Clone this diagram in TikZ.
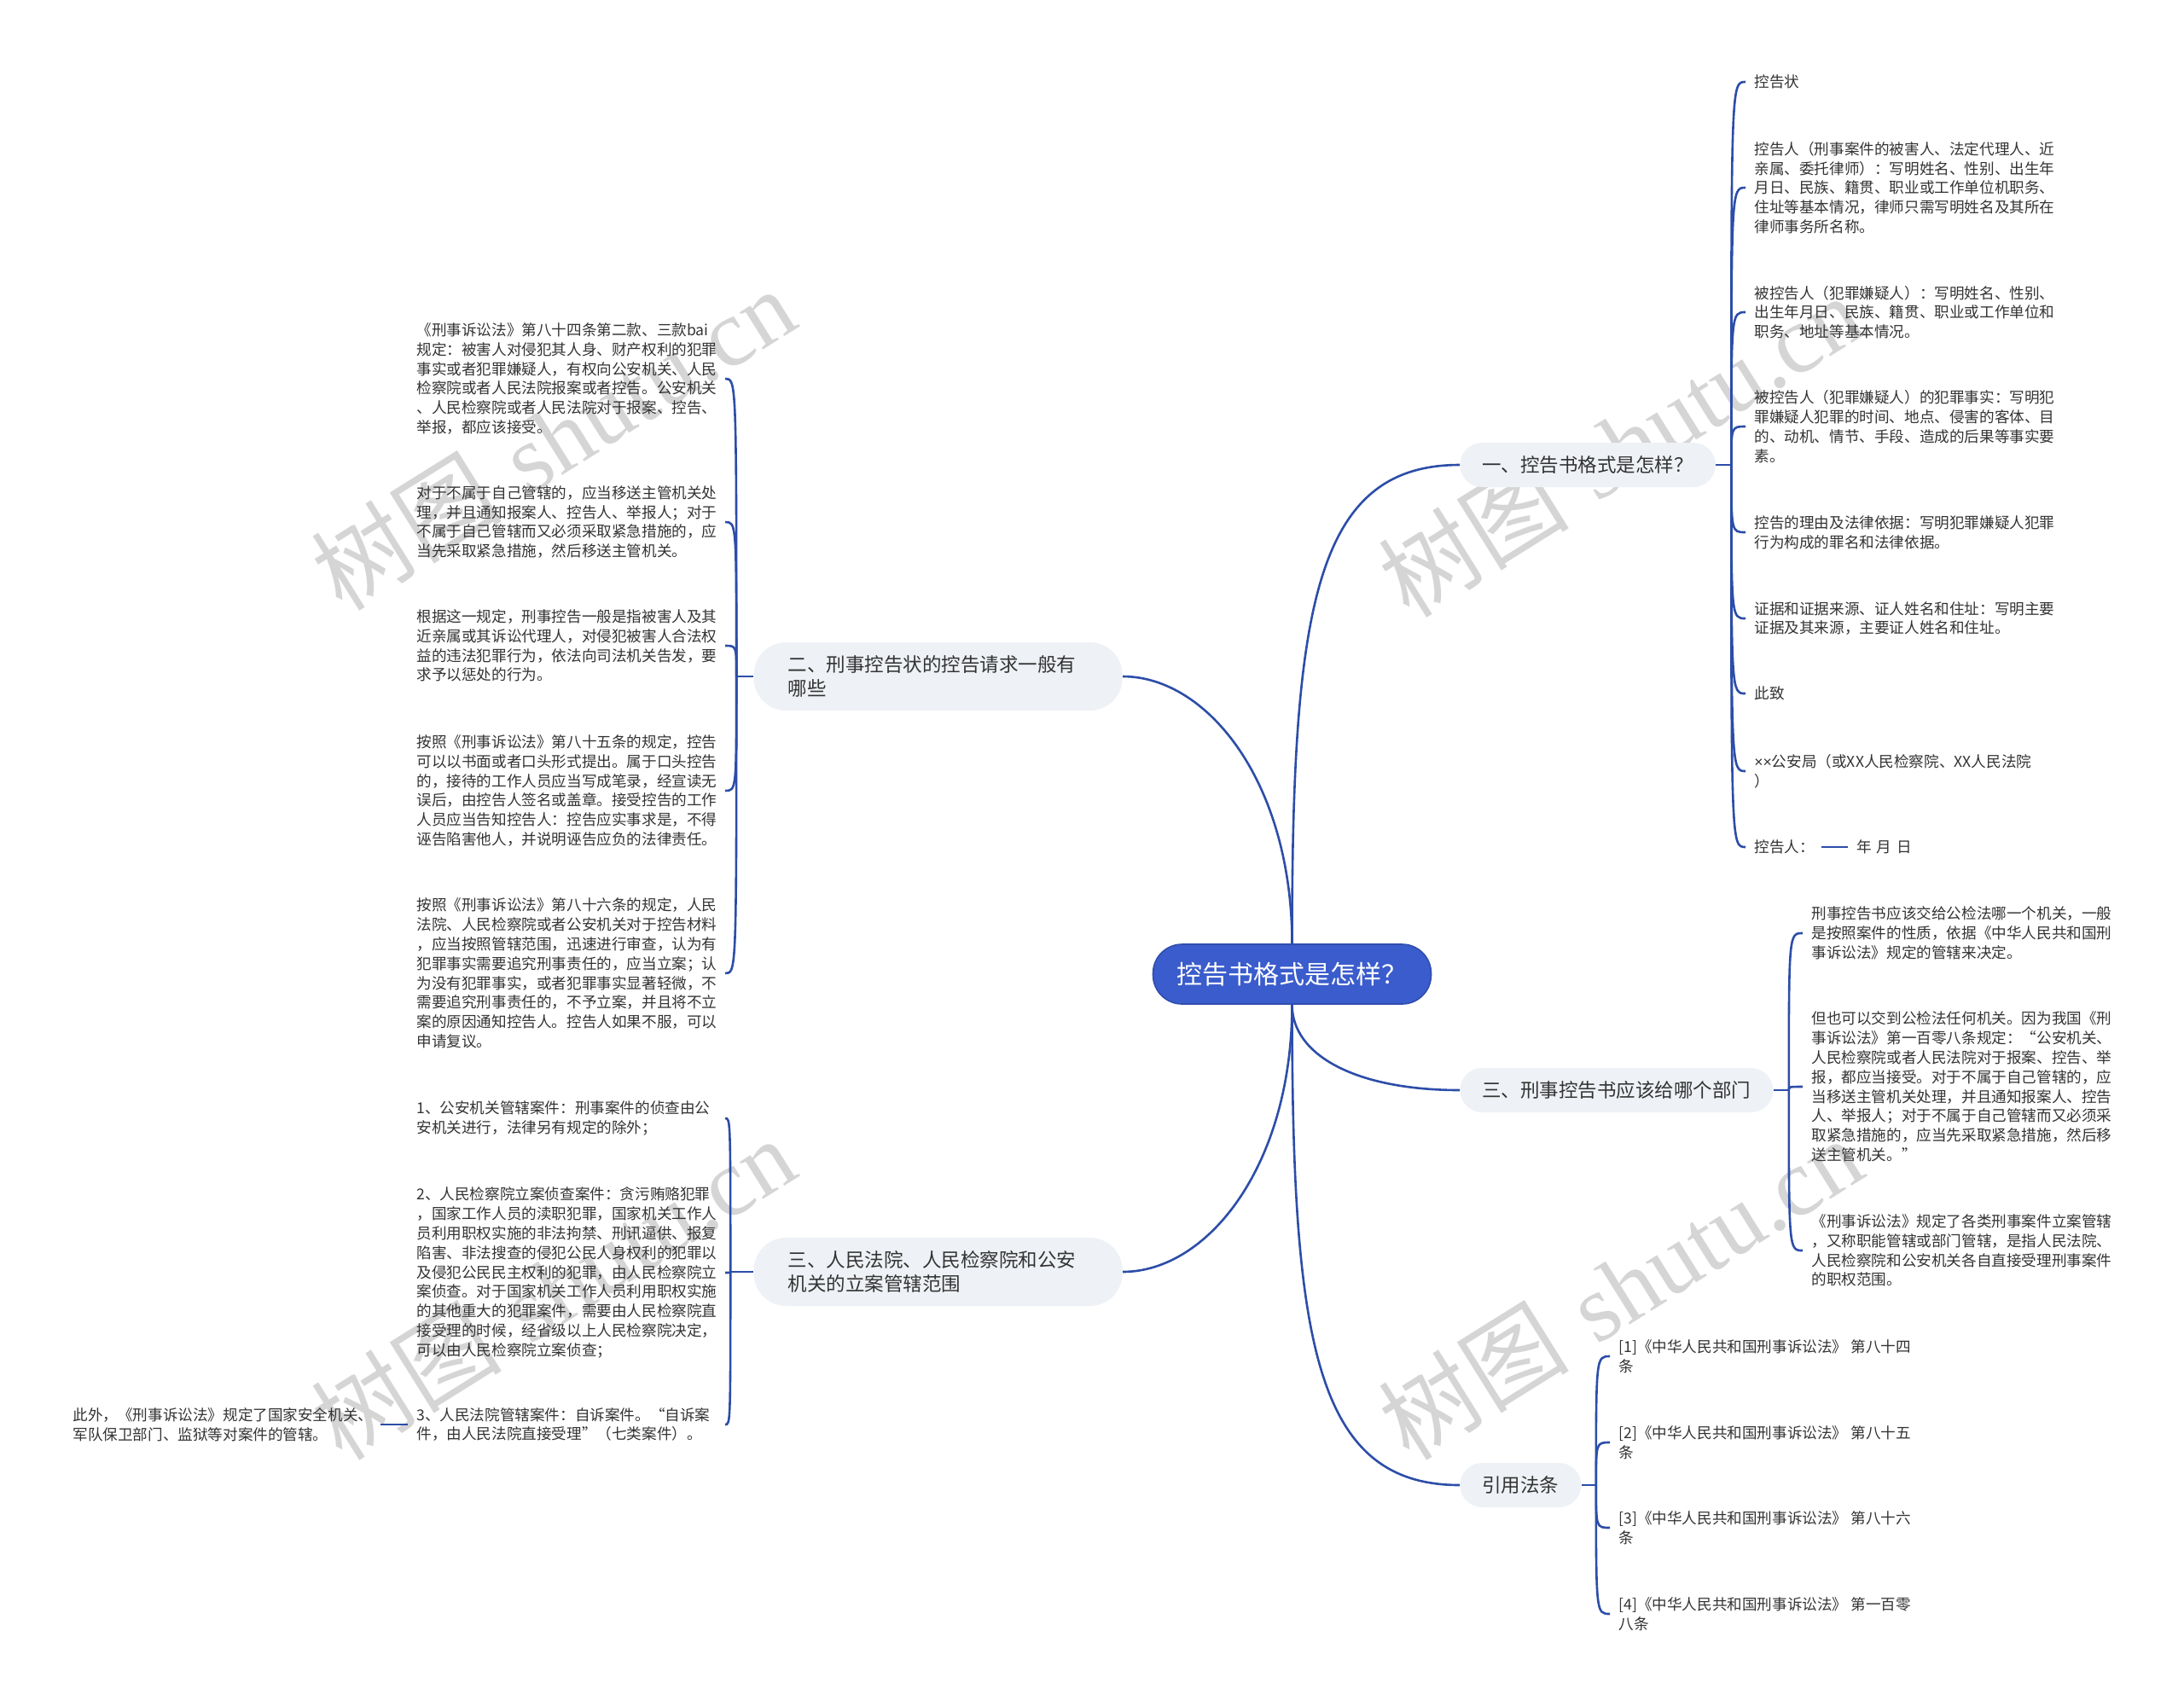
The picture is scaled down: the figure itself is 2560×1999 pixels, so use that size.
\documentclass[tikz,border=0pt]{standalone}
\usepackage{fontspec}
\newfontfamily\cjk{Noto Sans CJK SC}
\newfontfamily\wmserif{Liberation Serif}
\newfontfamily\latsans{Liberation Sans}
\usetikzlibrary{calc}
\definecolor{linec}{RGB}{44,77,168}
\definecolor{rootc}{RGB}{58,92,204}
\definecolor{pillc}{RGB}{238,241,245}
\definecolor{txtc}{RGB}{51,51,51}
\definecolor{wmc}{RGB}{200,200,200}
\begin{document}
\begin{tikzpicture}[x=0.5pt,y=-0.5pt,
  conn/.style={draw=linec, line width=1.3pt},
  leaf/.style={font=\cjk\fontsize{8.8pt}{11.4pt}\selectfont, text=txtc, align=left, inner sep=0pt, anchor=west},
  rootbox/.style={fill=rootc, draw=rootc!85!black, line width=0.8pt, rounded corners=17pt, minimum height=35pt, inner xsep=14pt, inner ysep=0pt, text=white, font=\cjk\fontsize{15pt}{18pt}\selectfont},
  pill/.style={fill=pillc, rounded corners=13pt, minimum height=26pt, inner xsep=13pt, inner ysep=0pt, text=txtc, font=\cjk\fontsize{11.25pt}{14pt}\selectfont, anchor=west},
  pilltwo/.style={fill=pillc, rounded corners=19pt, minimum height=40pt, text width=176pt, align=left, inner xsep=20pt, inner ysep=0pt, text=txtc, font=\cjk\fontsize{11.25pt}{14pt}\selectfont, anchor=east},
  wm/.style={text=wmc, opacity=0.75, rotate=32, font=\fontsize{56pt}{60pt}\selectfont}
]
\fill[white] (0,0) rectangle (2560,1999);
\useasboundingbox (0,0) rectangle (2560,1999);

% watermarks
\node[wm] (w1) at (648,514) {{\cjk 树图} {\wmserif shutu.cn}};
\node[wm] (w2) at (1899,522) {{\cjk 树图} {\wmserif shutu.cn}};
\node[wm] (w3) at (648,1510) {{\cjk 树图} {\wmserif shutu.cn}};
\node[wm] (w4) at (1899,1510) {{\cjk 树图} {\wmserif shutu.cn}};

% root and main branches
\node[rootbox] (c) at (1514.5,1142) {控告书格式是怎样？};
\node[pill] (b1) at (1711,545) {一、控告书格式是怎样？};
\node[pill] (b4) at (1711,1278) {三、刑事控告书应该给哪个部门};
\node[pill] (b5) at (1711,1741) {引用法条};
\node[pilltwo] (b2) at (1316,793) {二、刑事控告状的控告请求一般有\\哪些};
\node[pilltwo] (b3) at (1316,1491) {三、人民法院、人民检察院和公安\\机关的立案管辖范围};

\draw[conn] (c.north) .. controls ($(c.north)!0.7!(c.north|-b1.west)$) and ($(b1.west)+(-170,0)$) .. (b1.west);
\draw[conn] (c.north) .. controls ($(c.north)!0.6!(c.north|-b2.east)$) and ($(b2.east)+(100,0)$) .. (b2.east);
\draw[conn] (c.south) .. controls ($(c.south)!0.6!(c.south|-b3.east)$) and ($(b3.east)+(100,0)$) .. (b3.east);
\draw[conn] (c.south) .. controls ($(c.south)!0.6!(c.south|-b4.west)$) and ($(b4.west)+(-120,0)$) .. (b4.west);
\draw[conn] (c.south) .. controls ($(c.south)!0.7!(c.south|-b5.west)$) and ($(b5.west)+(-170,0)$) .. (b5.west);

% branch 1 children
\node[leaf] (r1) at (2056,96) {控告状};
\node[leaf] (r2) at (2056,220) {控告人（刑事案件的被害人、法定代理人、近\\亲属、委托律师）：写明姓名、性别、出生年\\月日、民族、籍贯、职业或工作单位机职务、\\住址等基本情况，律师只需写明姓名及其所在\\律师事务所名称。};
\node[leaf] (r3) at (2056,366) {被控告人（犯罪嫌疑人）：写明姓名、性别、\\出生年月日、民族、籍贯、职业或工作单位和\\职务、地址等基本情况。};
\node[leaf] (r4) at (2056,500) {被控告人（犯罪嫌疑人）的犯罪事实：写明犯\\罪嫌疑人犯罪的时间、地点、侵害的客体、目\\的、动机、情节、手段、造成的后果等事实要\\素。};
\node[leaf] (r5) at (2056,624) {控告的理由及法律依据：写明犯罪嫌疑人犯罪\\行为构成的罪名和法律依据。};
\node[leaf] (r6) at (2056,725) {证据和证据来源、证人姓名和住址：写明主要\\证据及其来源，主要证人姓名和住址。};
\node[leaf] (r7) at (2056,813) {此致};
\node[leaf] (r8) at (2056,904) {{\latsans ××}公安局（或XX人民检察院、XX人民法院\\）};
\node[leaf] (r9) at (2056,993) {控告人：\hspace{0.45em}\textcolor{linec}{\rule[0.3em]{1.75em}{1.4pt}}\hspace{0.6em}年\hspace{0.35em}月\hspace{0.35em}日};
\draw[conn] (b1.east) -- ++(18,0) coordinate (s1);
\foreach \n in {r1,r2,r3,r4,r5,r6,r7,r8,r9}
  \draw[conn] (s1) .. controls (s1 |- \n.west) .. ([xshift=-5pt]\n.west);

% branch 4 children
\node[leaf] (d1) at (2123,1094) {刑事控告书应该交给公检法哪一个机关，一般\\是按照案件的性质，依据《中华人民共和国刑\\事诉讼法》规定的管辖来决定。};
\node[leaf] (d2) at (2123,1274) {但也可以交到公检法任何机关。因为我国《刑\\事诉讼法》第一百零八条规定：“公安机关、\\人民检察院或者人民法院对于报案、控告、举\\报，都应当接受。对于不属于自己管辖的，应\\当移送主管机关处理，并且通知报案人、控告\\人、举报人；对于不属于自己管辖而又必须采\\取紧急措施的，应当先采取紧急措施，然后移\\送主管机关。”};
\node[leaf] (d3) at (2123,1466) {《刑事诉讼法》规定了各类刑事案件立案管辖\\，又称职能管辖或部门管辖，是指人民法院、\\人民检察院和公安机关各自直接受理刑事案件\\的职权范围。};
\draw[conn] (b4.east) -- ++(18,0) coordinate (s4);
\foreach \n in {d1,d2,d3}
  \draw[conn] (s4) .. controls (s4 |- \n.west) .. ([xshift=-5pt]\n.west);

% branch 5 children
\node[leaf] (e1) at (1897,1590) {[1]《中华人民共和国刑事诉讼法》 第八十四\\条};
\node[leaf] (e2) at (1897,1691) {[2]《中华人民共和国刑事诉讼法》 第八十五\\条};
\node[leaf] (e3) at (1897,1791) {[3]《中华人民共和国刑事诉讼法》 第八十六\\条};
\node[leaf] (e4) at (1897,1892) {[4]《中华人民共和国刑事诉讼法》 第一百零\\八条};
\draw[conn] (b5.east) -- ++(17,0) coordinate (s5);
\foreach \n in {e1,e2,e3,e4}
  \draw[conn] (s5) .. controls (s5 |- \n.west) .. ([xshift=-5pt]\n.west);

% branch 2 children
\node[leaf] (l1) at (488,444) {《刑事诉讼法》第八十四条第二款、三款bai\\规定：被害人对侵犯其人身、财产权利的犯罪\\事实或者犯罪嫌疑人，有权向公安机关、人民\\检察院或者人民法院报案或者控告。公安机关\\、人民检察院或者人民法院对于报案、控告、\\举报，都应该接受。};
\node[leaf] (l2) at (488,612) {对于不属于自己管辖的，应当移送主管机关处\\理，并且通知报案人、控告人、举报人；对于\\不属于自己管辖而又必须采取紧急措施的，应\\当先采取紧急措施，然后移送主管机关。};
\node[leaf] (l3) at (488,757) {根据这一规定，刑事控告一般是指被害人及其\\近亲属或其诉讼代理人，对侵犯被害人合法权\\益的违法犯罪行为，依法向司法机关告发，要\\求予以惩处的行为。};
\node[leaf] (l4) at (488,927) {按照《刑事诉讼法》第八十五条的规定，控告\\可以以书面或者口头形式提出。属于口头控告\\的，接待的工作人员应当写成笔录，经宣读无\\误后，由控告人签名或盖章。接受控告的工作\\人员应当告知控告人：控告应实事求是，不得\\诬告陷害他人，并说明诬告应负的法律责任。};
\node[leaf] (l5) at (488,1141) {按照《刑事诉讼法》第八十六条的规定，人民\\法院、人民检察院或者公安机关对于控告材料\\，应当按照管辖范围，迅速进行审查，认为有\\犯罪事实需要追究刑事责任的，应当立案；认\\为没有犯罪事实，或者犯罪事实显著轻微，不\\需要追究刑事责任的，不予立案，并且将不立\\案的原因通知控告人。控告人如果不服，可以\\申请复议。};
\draw[conn] (b2.west) -- ++(-20,0) coordinate (s2);
\foreach \n in {l1,l2,l3,l4,l5}
  \draw[conn] (s2) .. controls (s2 |- \n.west) .. ([xshift=181pt]\n.west);

% branch 3 children
\node[leaf] (m1) at (488,1311) {1、公安机关管辖案件：刑事案件的侦查由公\\安机关进行，法律另有规定的除外；};
\node[leaf] (m2) at (488,1492) {2、人民检察院立案侦查案件：贪污贿赂犯罪\\，国家工作人员的渎职犯罪，国家机关工作人\\员利用职权实施的非法拘禁、刑讯逼供、报复\\陷害、非法搜查的侵犯公民人身权利的犯罪以\\及侵犯公民民主权利的犯罪，由人民检察院立\\案侦查。对于国家机关工作人员利用职权实施\\的其他重大的犯罪案件，需要由人民检察院直\\接受理的时候，经省级以上人民检察院决定，\\可以由人民检察院立案侦查；};
\node[leaf] (m3) at (488,1670) {3、人民法院管辖案件：自诉案件。“自诉案\\件，由人民法院直接受理”（七类案件）。};
\draw[conn] (b3.west) -- ++(-27,0) coordinate (s3);
\foreach \n in {m1,m2,m3}
  \draw[conn] (s3) .. controls (s3 |- \n.west) .. ([xshift=181pt]\n.west);

\node[leaf] (g) at (85,1670) {此外，《刑事诉讼法》规定了国家安全机关、\\军队保卫部门、监狱等对案件的管辖。};
\draw[conn] ([xshift=-5pt]m3.west) -- ([xshift=4pt]g.east);
\end{tikzpicture}
\end{document}
